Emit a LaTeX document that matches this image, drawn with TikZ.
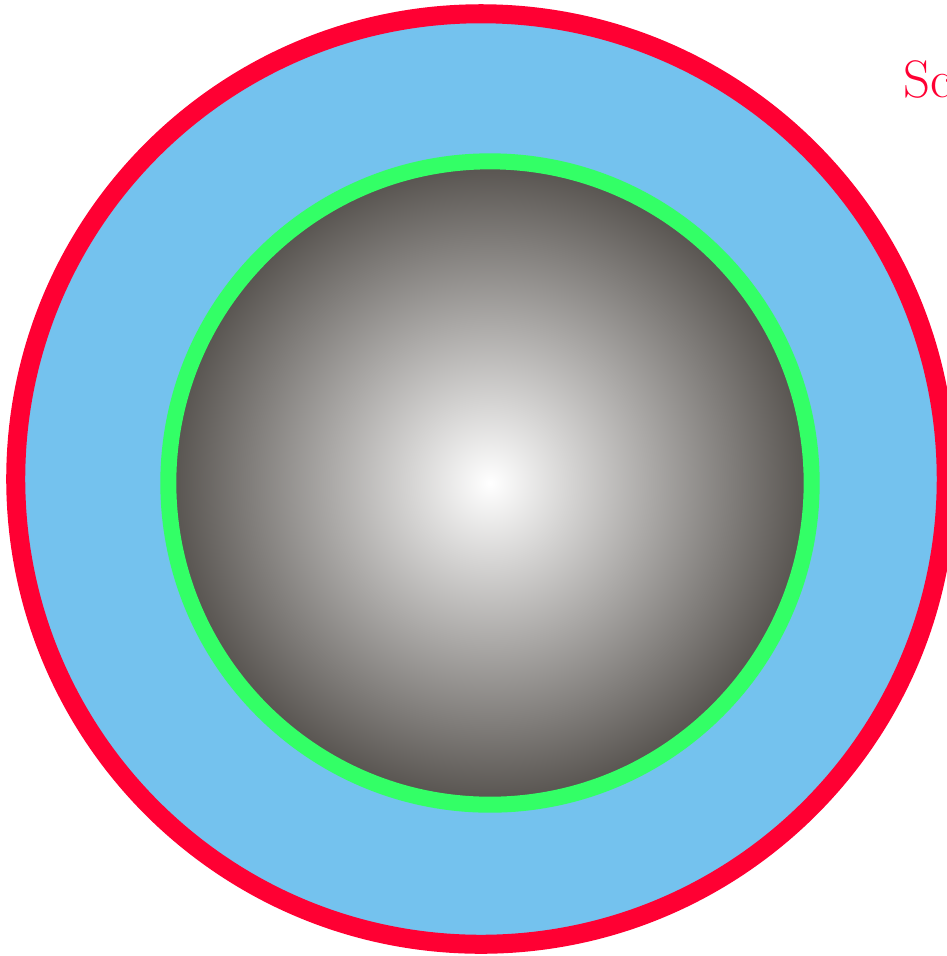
\documentclass[tikz,border=0pt]{standalone}
\usetikzlibrary{shadings}

\definecolor{shellred}{RGB}{255,0,51}
\definecolor{shellblue}{RGB}{116,194,238}
\definecolor{shellgreen}{RGB}{51,255,102}
\definecolor{coregray}{RGB}{86,82,78}

\begin{document}
\begin{tikzpicture}[
    x=0.01cm, y=-0.01cm,
    shell/.style={circle, inner sep=0pt, outer sep=0pt},
    label/.style={font=\fontsize{15}{18}\selectfont, text=shellred}
    ]

\useasboundingbox (0,0) rectangle (947,956);

% Outer shell and inner core (fixed coordinates)
\node[shell, minimum size=9.3cm, fill=shellblue, draw=shellred, line width=0.19cm] (outer) at (481,479) {};
\node[shell, minimum size=6.43cm, inner color=white, outer color=coregray, draw=shellgreen, line width=0.16cm] (core) at (490,483) {};

% Label at the top right
\node[label, anchor=base west, inner sep=0pt] (name) at (903,97) {Sc};

\end{tikzpicture}
\end{document}
